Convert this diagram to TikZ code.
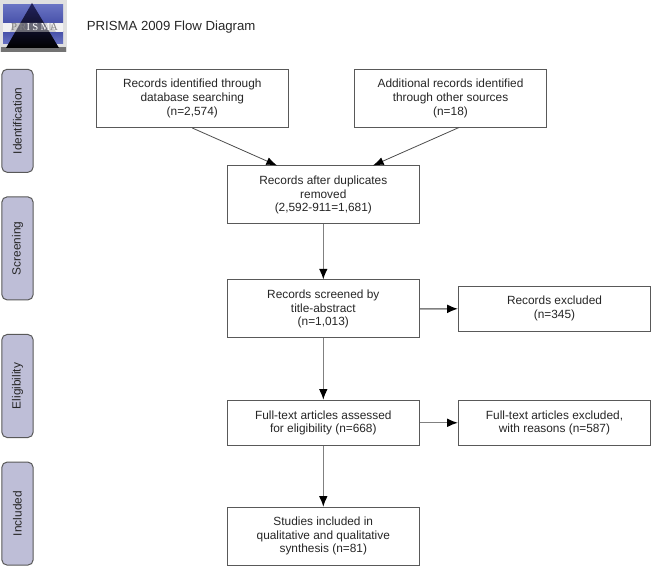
\documentclass[tikz,border=0pt]{standalone}
\usepackage{fontspec}
\setmainfont{Liberation Sans}
\newfontfamily\logofont[LetterSpace=22]{Liberation Serif}
\usetikzlibrary{arrows.meta}
\definecolor{tabc}{RGB}{190,190,215}
\definecolor{logoblue}{RGB}{72,82,170}
\definecolor{logobluelight}{RGB}{105,115,195}
\definecolor{logotri}{RGB}{35,35,95}
\tikzset{
 fbox/.style={draw=black!65,line width=0.75pt,fill=white,align=center,inner sep=0pt,font=\fontsize{8.9}{10.2}\selectfont,text=black!85},
 tab/.style={draw=black!65,line width=0.75pt,fill=tabc,rounded corners=4pt,inner sep=0pt,minimum height=23.5pt,minimum width=77.3pt,rotate=90,font=\fontsize{8.9}{10}\selectfont,text=black!85},
 conn/.style={draw=black!50,line width=1pt,-{Latex[black,length=8pt,width=6.5pt]}},
 connb/.style={draw=black!70,line width=0.6pt,-{Latex[black,length=8pt,width=6pt]}}
}
\newcommand{\bx}[6]{\node[fbox,minimum width=#4*0.75pt,minimum height=#5*0.75pt] (#1) at (#2*0.75pt,-#3*0.75pt) {\vspace*{1.5pt}#6};}
\begin{document}
\begin{tikzpicture}[x=0.75pt,y=-0.75pt]
\useasboundingbox (0,0) rectangle (651,566);
% logo
\fill[black!12] (0,0) rectangle (66.5,52.5);
\fill[top color=logobluelight,bottom color=logoblue] (3,5) rectangle (63,23);
\fill[top color=logoblue,bottom color=logobluelight] (3,32) rectangle (63,44);
\fill[black!5] (3,23) rectangle (63,32);
\fill[black!55] (1,47) rectangle (66,52);
\shade[top color=logotri,bottom color=black] (32,3) -- (59,48) -- (6,48) -- cycle;
\fill[black!30,opacity=.55] (13.5,23) -- (50.5,23) -- (56,32) -- (10,32) -- cycle;
\node[inner sep=0pt,font=\logofont\fontsize{8}{8}\selectfont] (logo) at (34.5,27.5) {{\color{black!50}PR}{\color{white}ISM}{\color{black!50}A}};
\node[anchor=west,inner sep=0pt,font=\fontsize{9.9}{11}\selectfont,text=black!85] (title) at (86.5,27.5) {PRISMA 2009 Flow Diagram};
% tabs
\node[tab] (t1) at (17.5,120.8) {Identification};
\node[tab] (t2) at (17.5,248.4) {Screening};
\node[tab] (t3) at (17.5,386) {Eligibility};
\node[tab] (t4) at (17.5,513.6) {Included};
% boxes
\bx{a}{192.3}{98.5}{192.4}{58}{Records identified through\\database searching\\(n=2,574)}
\bx{b}{450.5}{98.5}{192.4}{58}{Additional records identified\\through other sources\\(n=18)}
\bx{c}{323.3}{195}{192.4}{58}{Records after duplicates\\removed\\(2,592-911=1,681)}
\bx{d}{323.3}{309}{192.4}{58}{Records screened by\\title-abstract\\(n=1,013)}
\bx{e}{554.5}{308.7}{192.2}{45.3}{Records excluded\\(n=345)}
\bx{f}{323.3}{422.8}{192.4}{45}{Full-text articles assessed\\for eligibility (n=668)}
\bx{g}{554.5}{422.8}{192.2}{45}{Full-text articles excluded,\\with reasons (n=587)}
\bx{h}{323.3}{536.2}{192.4}{57.7}{Studies included in\\qualitative and qualitative\\synthesis (n=81)}
% connectors
\coordinate (ca) at (277,165.5);
\coordinate (cb) at (373,165.5);
\coordinate (bs) at (459,127.5);
\draw[connb] (a.south) -- (ca);
\draw[connb] (bs) -- (cb);
\draw[conn] (c) -- (d);
\draw[conn] (d) -- (e);
\draw[conn] (d) -- (f);
\draw[conn] (f) -- (g);
\draw[conn] (f) -- (h);
\end{tikzpicture}
\end{document}
